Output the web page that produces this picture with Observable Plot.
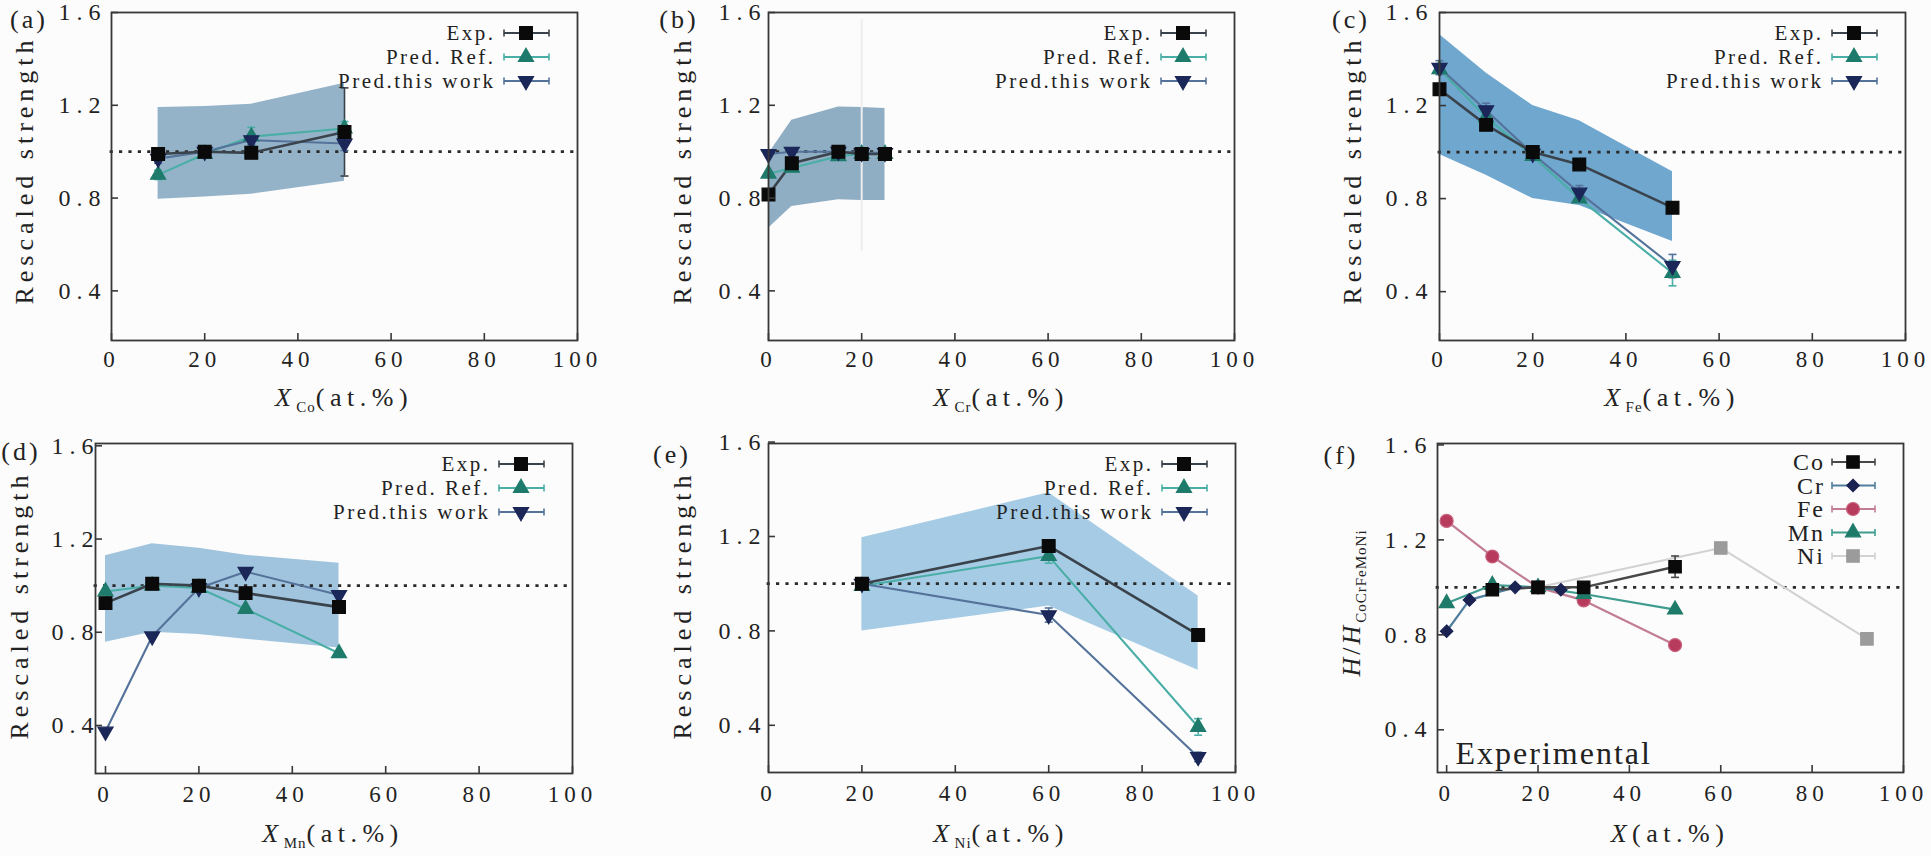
<!DOCTYPE html>
<html><head><meta charset="utf-8">
<script src="https://cdn.jsdelivr.net/npm/d3@7"></script>
<script src="https://cdn.jsdelivr.net/npm/@observablehq/plot@0.6"></script>
<style>
body{margin:0;background:#fcfcfc;}
#root{position:relative;width:1931px;height:856px;overflow:hidden;font-family:"Liberation Serif","Times New Roman","DejaVu Serif",serif;color:#222;}
#root svg{position:absolute;overflow:visible;background:transparent;max-width:none;}
#root svg text{font-family:"Liberation Serif","Times New Roman","DejaVu Serif",serif;}
.lab{position:absolute;white-space:nowrap;line-height:1;font-family:"Liberation Serif","Times New Roman","DejaVu Serif",serif;color:#222;}
.sub{font-size:15px;position:relative;top:6px;letter-spacing:1px;}
</style></head>
<body><div id="root"></div>
<script>
// ---------------- data ----------------
const xTicks = [0, 20, 40, 60, 80, 100];
const yTicks = [0.4, 0.8, 1.2, 1.6];

// (a) Co
const coX = [10, 20, 30, 50];
const coExp = [0.99, 1.00, 0.995, 1.085];
const coRef = [0.90, 0.99, 1.065, 1.10];
const coWork = [0.97, 1.00, 1.05, 1.035];
const coExpErr = [0.015, 0, 0.015, 0.19];
const coRefErr = [0.02, 0, 0.04, 0.03];
const coWorkErr = [0.02, 0, 0.02, 0.03];
const coBandLo = [0.795, 0.805, 0.817, 0.873];
const coBandHi = [1.19, 1.195, 1.205, 1.295];

// (b) Cr
const crX = [0, 5, 15, 20, 25];
const crExp = [0.815, 0.95, 1.00, 0.99, 0.99];
const crRef = [0.905, 0.93, 0.98, 0.99, 0.99];
const crWork = [0.99, 1.00, 1.00, 0.995, 0.995];
const crBandLo = [0.67, 0.764, 0.793, 0.79, 0.789];
const crBandHi = [0.99, 1.136, 1.193, 1.19, 1.186];
const crFaintX = [20];
const crFaintLo = [0.57];
const crFaintHi = [1.57];

// (c) Fe
const feX = [0, 10, 20, 30, 50];
const feExp = [1.27, 1.117, 1.00, 0.947, 0.761];
const feRef = [1.356, 1.15, 0.983, 0.80, 0.48];
const feWork = [1.363, 1.18, 0.993, 0.826, 0.51];
const feExpErr = [0.02, 0.02, 0, 0.02, 0.02];
const feRefErr = [0, 0, 0, 0, 0.055];
const feWorkErr = [0.03, 0.03, 0, 0.03, 0.05];
const feBandLo = [0.99, 0.90, 0.80, 0.77, 0.616];
const feBandHi = [1.505, 1.34, 1.20, 1.135, 0.915];

// (d) Mn
const mnX = [0, 10, 20, 30, 50];
const mnExp = [0.925, 1.008, 1.00, 0.968, 0.908];
const mnRef = [0.975, 1.00, 0.99, 0.90, 0.71];
const mnWork = [0.374, 0.783, 0.99, 1.06, 0.96];
const mnBandLo = [0.757, 0.80, 0.79, 0.77, 0.733];
const mnBandHi = [1.128, 1.18, 1.16, 1.13, 1.096];

// (e) Ni
const niX = [20, 60, 92];
const niExp = [1.00, 1.16, 0.783];
const niRef = [0.99, 1.117, 0.393];
const niWork = [1.00, 0.867, 0.266];
const niRefErr = [0, 0.03, 0.035];
const niWorkErr = [0, 0.03, 0.02];
const niBandLo = [0.80, 0.905, 0.633];
const niBandHi = [1.195, 1.385, 0.948];

// (f) experimental, all elements
const fCoX = [10, 20, 30, 50];
const fCoY = [0.99, 1.00, 1.00, 1.087];
const fCoErr = [0, 0, 0, 0.045];
const fCrX = [0, 5, 15, 20, 25];
const fCrY = [0.815, 0.947, 1.00, 1.00, 0.99];
const fFeX = [0, 10, 20, 30, 50];
const fFeY = [1.28, 1.13, 1.00, 0.945, 0.757];
const fMnX = [0, 10, 20, 30, 50];
const fMnY = [0.933, 1.01, 1.00, 0.972, 0.906];
const fNiX = [20, 60, 92];
const fNiY = [1.00, 1.166, 0.783];

// ---------------- helpers ----------------
const FONT = '"Liberation Serif","Times New Roman","DejaVu Serif",serif';
const SQRT3 = Math.sqrt(3);
const DOWN = {draw(ctx, size) {
  const y = -Math.sqrt(size / (SQRT3 * 3));
  ctx.moveTo(0, -y * 2); ctx.lineTo(-SQRT3 * y, y); ctx.lineTo(SQRT3 * y, y); ctx.closePath();
}};
const CAP = {draw(ctx) { ctx.moveTo(-4, 0); ctx.lineTo(4, 0); }};
const SYM = {square: d3.symbolSquare, triangle: d3.symbolTriangle, diamond2: d3.symbolDiamond2, circle: d3.symbolCircle};

const rows = (xs, ys, errs) => xs.map((x, i) => ({x, y: ys[i], err: errs ? errs[i] : 0}));
const band = (xs, lo, hi) => xs.map((x, i) => ({x, lo: lo[i], hi: hi[i]}));

const STY = {
  exp: {line: "#3a434b", mark: "#0a0a0a", sym: "square", r: 7.2, lw: 2.6, label: "Exp."},
  ref: {line: "#4aaea6", mark: "#1e7b6b", sym: "triangle", r: 5.6, lw: 2.1, label: "Pred. Ref."},
  work: {line: "#55739a", mark: "#1b2758", sym: DOWN, r: 5.6, lw: 2.1, label: "Pred.this work"}
};

const root = document.getElementById("root");
const ML = 140, MR = 30, MT = 30, MB = 110;

function makePanel(p) {
  const W = p.fr - p.fl + ML + MR, H = p.fb - p.ft + MT + MB;
  const marks = [];
  if (p.band) marks.push(Plot.areaY(p.band, {x: "x", y1: "lo", y2: "hi", fill: p.bandColor}));
  if (p.faint) marks.push(Plot.ruleX(p.faint, {x: "x", y1: "lo", y2: "hi", stroke: "#ededed", strokeWidth: 2}));
  marks.push(Plot.ruleY([1], {stroke: "#2a2a2a", strokeWidth: 2.8, strokeDasharray: "0.4,9", strokeLinecap: "square"}));
  for (const s of p.series) marks.push(Plot.line(s.data, {x: "x", y: "y", stroke: s.line, strokeWidth: s.lw}));
  for (const s of p.series) {
    const e = s.data.filter(d => d.err > 0);
    if (!e.length) continue;
    marks.push(Plot.ruleX(e, {x: "x", y1: d => d.y - d.err, y2: d => d.y + d.err, stroke: s.line, strokeWidth: 1.6}));
    marks.push(Plot.dot(e, {x: "x", y: d => d.y + d.err, symbol: CAP, r: 3, fill: "none", stroke: s.line, strokeWidth: 1.6}));
    marks.push(Plot.dot(e, {x: "x", y: d => d.y - d.err, symbol: CAP, r: 3, fill: "none", stroke: s.line, strokeWidth: 1.6}));
  }
  for (const s of p.series) marks.push(Plot.dot(s.data, {x: "x", y: "y", symbol: SYM[s.sym] || s.sym, r: s.r, fill: s.mark, stroke: s.stroke || s.mark, strokeWidth: 1.2}));
  if (p.note) marks.push(Plot.text([p.note], {text: d => d, frameAnchor: "bottom-left", dx: 18, dy: -9, textAnchor: "start", lineAnchor: "bottom", fontSize: 32, fill: "#222", fontFamily: FONT}));
  marks.push(Plot.frame({stroke: "#383838", strokeWidth: 1.8}));
  marks.push(Plot.axisX(xTicks, {tickSize: 7, dy: -7, fill: "none", label: null, stroke: "#383838", strokeWidth: 1.6}));
  marks.push(Plot.axisY(yTicks, {tickSize: 7, dx: 7, fill: "none", label: null, stroke: "#383838", strokeWidth: 1.6}));
  marks.push(Plot.axisX(xTicks, {tickSize: 0, tickPadding: p.xPad, label: null, fontSize: 23, fontFamily: FONT, fill: "#222"}));
  marks.push(Plot.axisY(yTicks, {tickSize: 0, tickPadding: p.yPad, label: null, tickFormat: d3.format(".1f"), fontSize: 24, fontFamily: FONT, fill: "#222"}));

  const svg = Plot.plot({
    width: W, height: H, marginLeft: ML, marginRight: MR, marginTop: MT, marginBottom: MB,
    x: {domain: p.xDomain, label: null}, y: {domain: p.yDomain, label: null},
    style: {background: "transparent", fontFamily: FONT, color: "#222", overflow: "visible"},
    marks
  });
  svg.style.left = (p.fl - ML) + "px";
  svg.style.top = (p.ft - MT) + "px";
  const sel = d3.select(svg);
  sel.selectAll('g[aria-label="x-axis tick label"] text').style("letter-spacing", "5px");
  sel.selectAll('g[aria-label="y-axis tick label"] text').style("letter-spacing", "6px");
  sel.selectAll('g[aria-label="text"] text').style("letter-spacing", "2px");

  // legend inside the frame, top right
  const lg = sel.append("g").attr("transform", `translate(${ML + p.fr - p.fl},${MT})`)
    .attr("font-family", FONT).attr("font-size", p.legFont || 21);
  const L = p.leg;
  const sp = p.legSpace || 2.5;
  p.series.slice().sort((a, b) => a.order - b.order).forEach((s, i) => {
    const y = L.y0 + L.dy * i;
    lg.append("text").attr("x", L.tx + sp).attr("y", y).attr("text-anchor", "end")
      .attr("dominant-baseline", "central").attr("fill", "#222").style("letter-spacing", sp + "px").text(s.label);
    lg.append("line").attr("x1", L.x1).attr("x2", L.x2).attr("y1", y).attr("y2", y).attr("stroke", s.line).attr("stroke-width", 2);
    for (const xx of [L.x1, L.x2]) lg.append("line").attr("x1", xx).attr("x2", xx).attr("y1", y - 3.5).attr("y2", y + 3.5).attr("stroke", s.line).attr("stroke-width", 1.6);
    const t = SYM[s.sym] || s.sym;
    lg.append("path").attr("transform", `translate(${L.mx},${y})`).attr("d", d3.symbol(t, s.r * s.r * Math.PI)())
      .attr("fill", s.mark).attr("stroke", s.stroke || s.mark).attr("stroke-width", 1.2);
  });
  root.appendChild(svg);
}

function label(html, cx, cy, size, spacing, rotate) {
  const d = document.createElement("div");
  d.className = "lab";
  d.innerHTML = html;
  d.style.left = cx + "px"; d.style.top = cy + "px";
  d.style.fontSize = size + "px"; d.style.letterSpacing = spacing + "px";
  d.style.transform = "translate(-50%,-50%)" + (rotate ? " rotate(-90deg)" : "");
  root.appendChild(d);
}

const three = (e, r, w) => [
  {...STY.ref, data: r, order: 1},
  {...STY.work, data: w, order: 2},
  {...STY.exp, data: e, order: 0}
];
const legTop = {y0: 21, dy: 24, tx: -84, x1: -73, x2: -28, mx: -51};

const panels = [
  {id: "(a)", el: "Co", fl: 111, fr: 577, ft: 12, fb: 340, xDomain: [0, 100], yDomain: [0.186, 1.6], yPad: 5, xPad: 10,
   band: band(coX, coBandLo, coBandHi), bandColor: "#94b3c8",
   series: three(rows(coX, coExp, coExpErr), rows(coX, coRef, coRefErr), rows(coX, coWork, coWorkErr)), leg: legTop,
   lab: [10, 20], yl: [25, 170], xl: [344, 398]},
  {id: "(b)", el: "Cr", fl: 768, fr: 1234, ft: 12, fb: 340, xDomain: [0, 100], yDomain: [0.186, 1.6], yPad: 2, xPad: 10,
   band: band(crX, crBandLo, crBandHi), bandColor: "#8fadc3",
   faint: crFaintX.map((x, i) => ({x, lo: crFaintLo[i], hi: crFaintHi[i]})),
   series: three(rows(crX, crExp), rows(crX, crRef), rows(crX, crWork)), leg: legTop,
   lab: [660, 20], yl: [683, 170], xl: [1001, 398]},
  {id: "(c)", el: "Fe", fl: 1439, fr: 1905, ft: 12, fb: 340, xDomain: [0, 100], yDomain: [0.19, 1.6], yPad: 6, xPad: 10,
   band: band(feX, feBandLo, feBandHi), bandColor: "#70a7ce",
   series: three(rows(feX, feExp, feExpErr), rows(feX, feRef, feRefErr), rows(feX, feWork, feWorkErr)), leg: legTop,
   lab: [1332, 20], yl: [1353, 170], xl: [1672, 398]},
  {id: "(d)", el: "Mn", fl: 95, fr: 572, ft: 443, fb: 773, xDomain: [-2.14, 100], yDomain: [0.194, 1.61], yPad: -4, xPad: 12,
   band: band(mnX, mnBandLo, mnBandHi), bandColor: "#a0c4de",
   series: three(rows(mnX, mnExp), rows(mnX, mnRef), rows(mnX, mnWork)), leg: legTop,
   lab: [2, 452], yl: [20, 605], xl: [333, 834]},
  {id: "(e)", el: "Ni", fl: 768, fr: 1235, ft: 443, fb: 772, xDomain: [0, 100], yDomain: [0.2, 1.594], yPad: 2, xPad: 12,
   band: band(niX, niBandLo, niBandHi), bandColor: "#a6cbe5",
   series: three(rows(niX, niExp), rows(niX, niRef, niRefErr), rows(niX, niWork, niWorkErr)), leg: legTop,
   lab: [653, 455], yl: [683, 605], xl: [1001, 834]}
];

for (const p of panels) {
  makePanel(p);
  label(p.id, p.lab[0] + 19, p.lab[1], 26, 3, false);
  label("Rescaled strength", p.yl[0], p.yl[1], 26, 5, true);
  label(`<i>X</i><span class="sub">${p.el}</span>(at.%)`, p.xl[0], p.xl[1], 26, 5.5, false);
}

// (f)
makePanel({fl: 1437, fr: 1903, ft: 443, fb: 772, xDomain: [-2, 100], yDomain: [0.22, 1.606], yPad: 5, xPad: 12,
  note: "Experimental", legFont: 24, legSpace: 2,
  series: [
    {label: "Ni", line: "#d2d2d2", mark: "#9b9b9b", sym: "square", r: 7.0, lw: 2, data: rows(fNiX, fNiY), order: 4},
    {label: "Fe", line: "#c27d93", mark: "#b73b5d", stroke: "#c8607e", sym: "circle", r: 6.5, lw: 2.2, data: rows(fFeX, fFeY), order: 2},
    {label: "Mn", line: "#3f9c8e", mark: "#1f7b69", sym: "triangle", r: 5.6, lw: 2.2, data: rows(fMnX, fMnY), order: 3},
    {label: "Cr", line: "#4f7f9c", mark: "#1b2352", sym: "diamond2", r: 5.6, lw: 2.2, data: rows(fCrX, fCrY), order: 1},
    {label: "Co", line: "#484848", mark: "#0a0a0a", sym: "square", r: 7.0, lw: 2.5, data: rows(fCoX, fCoY, fCoErr), order: 0}
  ],
  leg: {y0: 19, dy: 23.5, tx: -80, x1: -71, x2: -28, mx: -50}});
label("(f)", 1341, 456, 26, 3, false);
label(`<i>H</i>/<i>H</i><span class="sub">CoCrFeMoNi</span>`, 1352, 603, 26, 3, true);
label(`<i>X</i>(at.%)`, 1670, 834, 26, 5.5, false);
</script>
</body></html>
